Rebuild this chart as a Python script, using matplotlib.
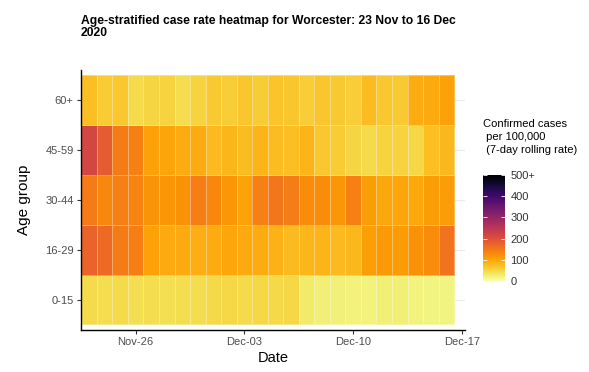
import numpy as np
import pandas as pd
import matplotlib
matplotlib.use("Agg")
import matplotlib.pyplot as plt
import matplotlib.dates as mdates

plt.rcParams['font.family'] = ['Liberation Sans', 'DejaVu Sans']

# daily dates, 23 Nov to 16 Dec 2020
dates = pd.date_range("2020-11-23", "2020-12-16", freq="D")
age_groups = ["0-15", "16-29", "30-44", "45-59", "60+"]

# 7-day rolling case rate per 100,000
rate_0_15 = [45, 44, 45, 42, 44, 42, 43, 44, 48, 50, 46, 49,
             47, 50, 30, 25, 22, 21, 21, 24, 24, 21, 18, 18]
rate_16_29 = [175, 165, 145, 141, 104, 94, 94, 90, 93, 98, 94, 93,
              87, 80, 83, 84, 79, 82, 106, 112, 110, 121, 126, 155]
rate_30_44 = [145, 132, 140, 135, 118, 116, 121, 142, 132, 115, 103, 140,
              152, 144, 125, 126, 117, 139, 108, 97, 99, 97, 108, 108]
rate_45_59 = [215, 185, 145, 140, 105, 100, 93, 92, 80, 83, 77, 84,
              78, 75, 85, 65, 62, 52, 46, 53, 54, 50, 75, 82]
rate_60p = [75, 62, 65, 45, 52, 54, 44, 53, 63, 60, 68, 61,
            70, 68, 60, 68, 64, 60, 78, 66, 64, 92, 95, 105]

cbar_ticks = [0, 100, 200, 300, 400, 500]
cbar_labels = ["0", "100", "200", "300", "400", "500+"]

rates = np.array([rate_0_15, rate_16_29, rate_30_44, rate_45_59, rate_60p])

fig = plt.figure(figsize=(5.89, 3.72), dpi=100)
ax = fig.add_axes([0.1367, 0.113, 0.6528, 0.699])

xnum = mdates.date2num(dates)
x_edges = np.concatenate([xnum - 0.5, [xnum[-1] + 0.5]])
y_edges = np.arange(len(age_groups) + 1) - 0.5

mesh = ax.pcolormesh(x_edges, y_edges, rates, cmap="inferno_r", vmin=0, vmax=500,
                     edgecolors=(1, 1, 1, 0.35), linewidth=0.6, zorder=2)

for i in range(len(age_groups)):
    ax.axhline(i, color="#ebebeb", lw=0.8, zorder=1)

ax.set_xlim(xnum[0] - 0.55, xnum[-1] + 1.2)
ax.set_ylim(-0.61, len(age_groups) - 0.39)

ax.set_yticks(range(len(age_groups)))
ax.set_yticklabels(age_groups)
ax.xaxis.set_major_locator(mdates.DayLocator(bymonthday=[26, 3, 10, 17]))
ax.xaxis.set_major_formatter(mdates.DateFormatter("%b-%d"))

for s in ["top", "right"]:
    ax.spines[s].set_visible(False)
for s in ["left", "bottom"]:
    ax.spines[s].set_linewidth(1.0)
    ax.spines[s].set_color("black")
ax.tick_params(axis="both", length=3, width=0.8, color="#333333",
               labelsize=8, labelcolor="#4d4d4d", pad=2)

ax.set_xlabel("Date", fontsize=10.5, labelpad=3)
ax.set_ylabel("Age group", fontsize=11, labelpad=10)

fig.text(80.5 / 589, 1 - 15 / 372,
         "Age-stratified case rate heatmap for Worcester: 23 Nov to 16 Dec\n2020",
         fontsize=8.7, fontweight="bold", ha="left", va="top", linespacing=1.0)

# colour legend
cax = fig.add_axes([483 / 589, 91 / 372, 22 / 589, 106 / 372])
cb = fig.colorbar(mesh, cax=cax, ticks=cbar_ticks)
cb.ax.set_yticklabels(cbar_labels)
cb.outline.set_visible(False)
cax.tick_params(axis="y", direction="in", length=3, width=0.6, color="white",
                left=True, right=True, labelsize=8, labelcolor="#333333", pad=4)

fig.text(483 / 589, 1 - 119 / 372,
         "Confirmed cases\n per 100,000\n (7-day rolling rate)",
         fontsize=8, ha="left", va="top", linespacing=1.35)

fig.savefig("out.png", dpi=100)
